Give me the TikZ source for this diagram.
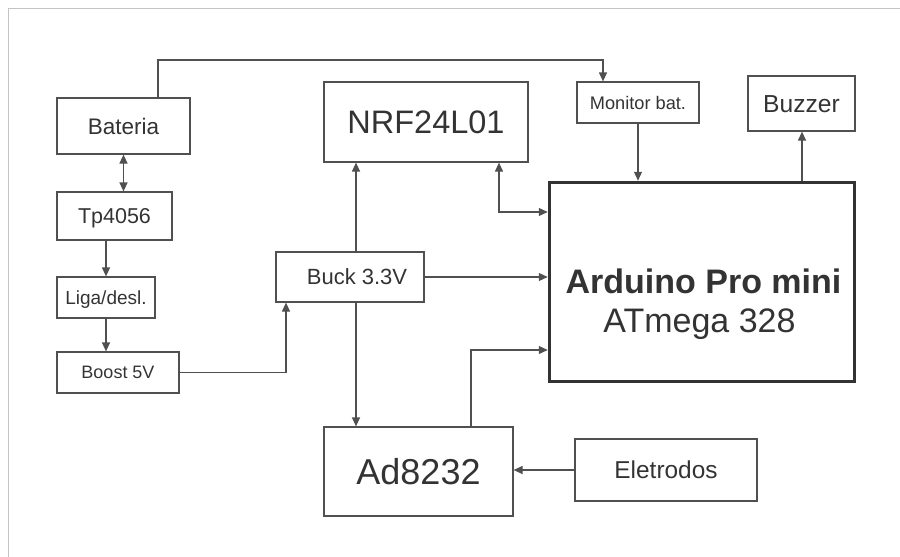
\documentclass[tikz,border=0pt]{standalone}
\usepackage{fontspec}
\setmainfont{Liberation Sans}
\usetikzlibrary{arrows.meta}
\definecolor{txt}{HTML}{333333}
\definecolor{ln}{HTML}{505050}
\definecolor{frm}{HTML}{C4C4C4}
\begin{document}
\begin{tikzpicture}[x=1pt,y=-1pt,
  box/.style={draw=ln, line width=1.2pt, rectangle, inner sep=0pt, text=txt, text depth=0pt},
  conn/.style={draw=ln, line width=1.2pt, -{Triangle[length=9pt,width=8pt]}},
  dconn/.style={draw=ln, line width=1.2pt, {Triangle[length=9pt,width=8pt]}-{Triangle[length=9pt,width=8pt]}},
  lbl/.style={text=txt, inner sep=0pt, anchor=base}]
\useasboundingbox (0,0) rectangle (900,557);
\draw[frm, line width=1pt] (8,557) -- (8,8) -- (900,8);

\node[box, minimum width=133pt, minimum height=56pt, font=\fontsize{22.5}{26}\selectfont, text height=16.1pt] (bat) at (123.5,126) {Bateria};
\node[box, minimum width=115pt, minimum height=48pt, font=\fontsize{21.5}{25}\selectfont, text height=15.4pt] (tp) at (114.5,216) {Tp4056};
\node[box, minimum width=98pt, minimum height=41pt, font=\fontsize{19}{22}\selectfont, text height=13.6pt] (liga) at (106,297.5) {Liga/desl.};
\node[box, minimum width=122pt, minimum height=41pt, font=\fontsize{18}{21}\selectfont, text height=12.9pt] (boost) at (118,372.5) {Boost 5V};
\node[box, minimum width=148pt, minimum height=50pt, font=\fontsize{22}{26}\selectfont, text height=15.8pt] (buck) at (350,277) {\hspace*{14pt}Buck 3.3V};
\node[box, minimum width=204pt, minimum height=80pt, font=\fontsize{32.5}{38}\selectfont, text height=23.3pt] (nrf) at (426,122) {NRF24L01};
\node[box, minimum width=122pt, minimum height=41pt, font=\fontsize{18.2}{21}\selectfont, text height=13pt] (mon) at (638,102.5) {Monitor bat.};
\node[box, minimum width=107pt, minimum height=55pt, font=\fontsize{24.6}{29}\selectfont, text height=17.6pt] (buz) at (801.5,103.5) {Buzzer};
\node[box, minimum width=189pt, minimum height=89pt, font=\fontsize{36}{42}\selectfont, text height=25.8pt] (ad) at (418.5,471.5) {Ad8232};
\node[box, minimum width=182pt, minimum height=62pt, font=\fontsize{24.4}{29}\selectfont, text height=17.5pt] (el) at (666,470) {Eletrodos};
\node[draw=txt, line width=3.5pt, rectangle, inner sep=0pt, minimum width=305pt, minimum height=199pt] (ard) at (702,282) {};
\node[lbl, font=\fontsize{34}{40}\selectfont\bfseries] (ard1) at (703.5,293) {Arduino Pro mini};
\node[lbl, font=\fontsize{34}{40}\selectfont] (ard2) at (699.5,332) {ATmega 328};

\coordinate (k1) at (158,60);
\coordinate (k2) at (603,60);
\coordinate (k3) at (286,373);
\coordinate (k4) at (356,200);
\coordinate (k5) at (499,212);
\coordinate (k6) at (802,150);
\coordinate (k7) at (471,350);

\draw[conn] (bat.north -| k1) -- (k1) -- (k2) -- (mon.north -| k2);
\draw[dconn] (bat.south) -- (tp.north -| bat.south);
\draw[conn] (tp.south -| liga.north) -- (liga.north);
\draw[conn] (liga.south) -- (boost.north -| liga.south);
\draw[conn] (boost.east) -- (boost.east -| k3) -- (buck.south -| k3);
\draw[conn] (buck.north -| k4) -- (nrf.south -| k4);
\draw[conn] (buck.east) -- (buck.east -| ard.west);
\draw[conn] (buck.south -| k4) -- (ad.north -| k4);
\draw[dconn] (nrf.south -| k5) -- (k5) -- (k5 -| ard.west);
\draw[conn] (mon.south) -- (mon.south |- ard.north);
\draw[conn] (ard.north -| k6) -- (buz.south -| k6);
\draw[conn] (ad.north -| k7) -- (k7) -- (k7 -| ard.west);
\draw[conn] (el.west) -- (el.west -| ad.east);
\end{tikzpicture}
\end{document}
